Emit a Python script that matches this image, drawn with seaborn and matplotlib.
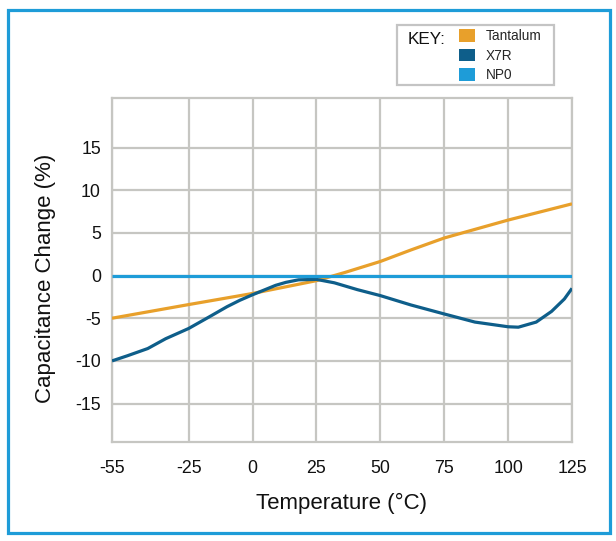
import matplotlib
matplotlib.use("Agg")
import matplotlib.pyplot as plt
from matplotlib.patches import Patch, Rectangle
import numpy as np
import pandas as pd
import seaborn as sns

# ---- data ----
series_names = ["Tantalum", "X7R", "NP0"]
series_colors = ["#E8A02B", "#0E5E8A", "#1E9CD8"]

tantalum_temp = [-55, -25, 0, 25, 36, 50, 62, 75, 100, 125]
tantalum_val = [-5.0, -3.4, -2.1, -0.6, 0.35, 1.65, 3.0, 4.4, 6.5, 8.4]

x7r_temp = [-55, -49, -41, -34, -25, -17, -10, -5, 0, 9, 13, 18, 25, 32, 41, 50, 56, 62,
            75, 87, 100, 104, 111, 117, 122, 125]
x7r_val = [-10.0, -9.4, -8.55, -7.4, -6.2, -4.85, -3.65, -2.9, -2.25, -1.15, -0.8, -0.5,
           -0.45, -0.85, -1.65, -2.35, -2.9, -3.45, -4.5, -5.45, -6.0, -6.05, -5.45, -4.2,
           -2.75, -1.5]

np0_temp = [-55, 125]
np0_val = [0, 0]

x_ticks = [-55, -25, 0, 25, 50, 75, 100, 125]
y_ticks = [-15, -10, -5, 0, 5, 10, 15]

frames = []
for name, t, v in zip(series_names,
                      [tantalum_temp, x7r_temp, np0_temp],
                      [tantalum_val, x7r_val, np0_val]):
    frames.append(pd.DataFrame({"Temperature": t, "Change": v, "Series": name}))
df = pd.concat(frames, ignore_index=True)

# ---- style ----
sns.set_style("white")
plt.rcParams["font.family"] = ["Liberation Sans", "DejaVu Sans"]
plt.rcParams["axes.unicode_minus"] = False

W, H = 616, 541
fig = plt.figure(figsize=(W / 100, H / 100), dpi=100)
L, R, T, B = 112, 572, 98, 442
ax = fig.add_axes([L / W, 1 - B / H, (R - L) / W, (B - T) / H])

grid_c = "#c6c6c2"
ax.set_xticks(x_ticks)
ax.set_yticks(y_ticks)
ax.grid(True, color=grid_c, linewidth=1.6)
ax.set_axisbelow(True)
for s in ax.spines.values():
    s.set_color(grid_c)
    s.set_linewidth(1.6)

palette = dict(zip(series_names, series_colors))
sns.lineplot(data=df, x="Temperature", y="Change", hue="Series", palette=palette,
             sort=False, estimator=None, linewidth=2.3, legend=False, ax=ax)
for ln in ax.lines:
    ln.set_solid_capstyle("butt")
    ln.set_solid_joinstyle("round")
    ln.set_zorder(3)

ax.set_xlim(-55, 125)
ax.set_ylim(-19.5, 20.8)
ax.tick_params(axis="x", length=3, width=1.6, color=grid_c, pad=10, labelsize=12.8,
               labelcolor="#111111")
ax.tick_params(axis="y", length=0, pad=8, labelsize=12.8, labelcolor="#111111")

ax.set_xlabel("Temperature (°C)", fontsize=16, color="#111111")
ax.set_ylabel("Capacitance Change (%)", fontsize=16, color="#111111")
ax.xaxis.set_label_coords(0.5, -0.148)
ax.yaxis.set_label_coords(-0.122, 0.477)

# ---- key ----
box = Rectangle((397 / W, 1 - 85 / H), (554 - 397) / W, (85 - 25) / H,
                transform=fig.transFigure, fill=False, ec="#c4c4c4", lw=1.6)
fig.add_artist(box)
fig.text(408 / W, 1 - 40 / H, "KEY:", fontsize=12.3, color="#111111", va="center", ha="left")
handles = [Patch(facecolor=c, edgecolor="none") for c in series_colors]
fig.legend(handles, series_names, loc="upper left", bbox_to_anchor=(459 / W, 1 - 29 / H),
           bbox_transform=fig.transFigure, frameon=False, fontsize=9.8,
           handlelength=1.2, handleheight=1.05, handletextpad=0.75, labelspacing=0.42,
           borderpad=0.0, borderaxespad=0.0)

# ---- outer blue border ----
border = Rectangle((8 / W, 1 - 533 / H), (610 - 8) / W, (533 - 10) / H,
                   transform=fig.transFigure, fill=False, ec="#1E9CD8", lw=2.3)
fig.add_artist(border)

fig.savefig("out.png", dpi=100)
